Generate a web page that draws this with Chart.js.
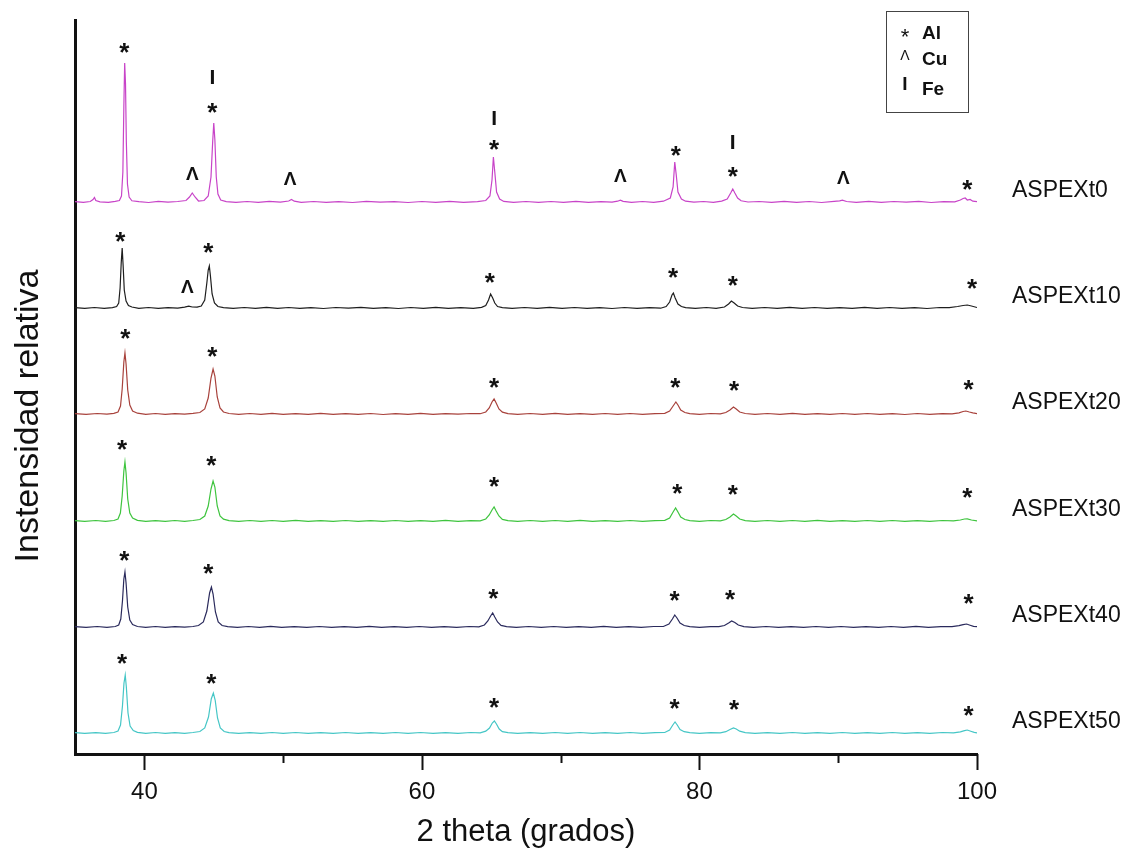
<!DOCTYPE html>
<html>
<head>
<meta charset="utf-8">
<title>DRX ASPEX</title>
<script src="https://cdn.jsdelivr.net/npm/chart.js@4.4.1/dist/chart.umd.min.js"></script>
<style>
  html, body { margin: 0; padding: 0; background: #fff; }
  canvas { display: block; }
</style>
</head>
<body>
<canvas id="xrd" width="1131" height="864"></canvas>
<script>
// Difractogramas apilados, 2 theta en grados, intensidad en unidades relativas
const sampleNames = ['ASPEXt0', 'ASPEXt10', 'ASPEXt20', 'ASPEXt30', 'ASPEXt40', 'ASPEXt50'];
const sampleOffsets = [552, 446, 340, 233, 127, 21];
const sampleColors = ['#c844c8', '#1e1e1e', '#a8423c', '#3ec43e', '#2a2a5c', '#45c6c6'];

const xTickValues = [40, 50, 60, 70, 80, 90, 100];
const xTickLabels = ['40', '', '60', '', '80', '', '100'];

const legendSymbols = ['*', 'Λ', 'I'];
const legendNames = ['Al', 'Cu', 'Fe'];

const t0 = [
  [35.0,0.4],[35.6,-0.3],[36.1,0.5],[36.3,2.5],[36.4,4.5],[36.5,1.5],[36.8,0.2],[37.4,-0.4],[37.9,0.6],
  [38.2,1.5],[38.35,6],[38.45,30],[38.52,95],[38.58,139],[38.64,118],[38.7,60],[38.78,18],[38.9,5],[39.1,1.2],
  [39.6,0.3],[40.3,-0.5],[41.0,0.6],[41.7,-0.2],[42.4,0.5],[43.0,1.5],[43.25,5],[43.45,9],[43.65,5],[43.9,1],
  [44.3,1.5],[44.6,6],[44.8,25],[44.92,60],[45.0,79],[45.08,62],[45.18,25],[45.3,8],[45.5,2],[45.9,0.4],
  [46.6,-0.4],[47.4,0.5],[48.2,-0.3],[49.0,0.6],[49.8,-0.2],[50.4,1],[50.6,2.5],[50.8,0.8],[51.3,-0.3],
  [52.2,0.5],[53.1,-0.4],[54.0,0.3],[55.0,-0.5],[56.0,0.6],[57.0,-0.2],[58.0,0.4],[59.0,-0.5],[60.0,0.5],
  [61.0,-0.3],[62.0,0.6],[63.0,-0.4],[64.0,0.4],[64.6,1.5],[64.9,6],[65.05,22],[65.15,45],[65.25,30],[65.38,10],[65.6,3],[65.9,0.6],
  [66.6,-0.3],[67.5,0.5],[68.4,-0.4],[69.3,0.5],[70.2,-0.3],[71.1,0.6],[72.0,-0.4],[72.9,0.4],[73.7,-0.2],[74.1,0.8],[74.3,1.8],[74.5,0.6],
  [75.1,-0.4],[75.9,0.5],[76.7,-0.3],[77.4,0.8],[77.9,4],[78.1,15],[78.22,40],[78.32,28],[78.45,10],[78.7,3],[79.0,0.8],
  [79.6,-0.2],[80.3,0.5],[81.0,-0.3],[81.6,0.9],[82.0,3],[82.25,9],[82.4,13],[82.55,9],[82.75,4],[83.0,1.2],[83.5,0],
  [84.3,0.5],[85.2,-0.4],[86.1,0.6],[87.0,-0.3],[87.9,0.5],[88.8,-0.5],[89.7,0.6],[90.1,1.2],[90.3,1.8],[90.6,0.5],
  [91.3,-0.3],[92.2,0.6],[93.1,-0.4],[94.0,0.5],[94.9,-0.2],[95.8,0.6],[96.7,-0.5],[97.6,0.4],[98.4,0.2],[98.8,2],[99.0,3.5],[99.15,4],[99.3,2],[99.5,2.5],[99.7,0.8],[100,0.3]
];

const t10 = [
  [35.0,0.3],[35.7,-0.4],[36.4,0.5],[37.1,-0.3],[37.7,0.4],[38.0,1.5],[38.15,5],[38.25,20],[38.33,45],[38.4,60],[38.47,42],[38.55,18],[38.68,7],[38.85,2.5],[39.1,1],
  [39.6,-0.3],[40.3,0.5],[41.0,-0.4],[41.7,0.4],[42.4,-0.2],[42.9,0.8],[43.2,1.8],[43.45,1],[43.8,0.8],[44.1,2],[44.35,8],[44.5,25],[44.6,38],[44.68,42],[44.76,32],[44.88,14],[45.05,5],[45.3,1.5],[45.7,0.3],
  [46.4,-0.4],[47.2,0.5],[48.0,-0.3],[48.8,0.6],[49.6,-0.4],[50.4,0.5],[51.2,-0.3],[52.0,0.4],[52.9,-0.5],[53.8,0.5],[54.7,-0.2],[55.6,0.6],[56.5,-0.4],[57.4,0.3],[58.3,-0.5],[59.2,0.5],[60.1,-0.3],[61.0,0.6],[61.9,-0.4],[62.8,0.4],[63.7,-0.3],[64.3,0.6],
  [64.6,2.5],[64.8,8],[64.95,14],[65.1,10],[65.25,5],[65.45,1.5],[65.8,0.3],
  [66.5,-0.4],[67.4,0.5],[68.3,-0.3],[69.2,0.6],[70.1,-0.4],[71.0,0.5],[71.9,-0.3],[72.8,0.4],[73.7,-0.5],[74.6,0.5],[75.5,-0.3],[76.4,0.4],[77.2,-0.2],[77.6,1.5],[77.85,6],[78.02,13],[78.12,15],[78.25,10],[78.45,4],[78.7,1.5],[79.0,0.3],
  [79.7,-0.4],[80.5,0.5],[81.2,-0.3],[81.8,1],[82.1,4],[82.3,7],[82.5,5],[82.75,2],[83.1,0.5],
  [83.8,-0.3],[84.7,0.5],[85.6,-0.4],[86.5,0.6],[87.4,-0.3],[88.3,0.5],[89.2,-0.4],[90.1,0.4],[91.0,-0.3],[91.9,0.6],[92.8,-0.4],[93.7,0.5],[94.6,-0.3],[95.5,0.4],[96.4,-0.5],[97.3,0.5],[98.0,0.3],[98.6,1.5],[99.0,2.5],[99.3,3],[99.6,2],[100,0.5]
];

const t20 = [
  [35.0,0.4],[35.8,-0.3],[36.6,0.5],[37.3,-0.2],[37.8,0.6],[38.1,2],[38.28,8],[38.4,25],[38.52,52],[38.6,61],[38.68,50],[38.8,24],[38.95,9],[39.15,3],[39.5,0.8],
  [40.1,-0.3],[40.8,0.5],[41.5,-0.4],[42.2,0.4],[42.9,-0.2],[43.5,0.6],[44.0,1.5],[44.35,5],[44.6,16],[44.8,36],[44.95,45],[45.08,38],[45.25,17],[45.45,6],[45.7,2],[46.1,0.5],
  [46.8,-0.4],[47.6,0.5],[48.4,-0.3],[49.2,0.6],[50.0,-0.4],[50.9,0.4],[51.8,-0.3],[52.7,0.6],[53.6,-0.4],[54.5,0.4],[55.4,-0.3],[56.3,0.5],[57.2,-0.5],[58.1,0.4],[59.0,-0.3],[59.9,0.6],[60.8,-0.4],[61.7,0.4],[62.6,-0.2],[63.5,0.5],[64.2,0.3],
  [64.6,2],[64.85,6],[65.05,12],[65.2,15],[65.35,11],[65.55,5],[65.8,1.8],[66.2,0.3],
  [66.9,-0.4],[67.8,0.5],[68.7,-0.3],[69.6,0.6],[70.5,-0.4],[71.4,0.4],[72.3,-0.3],[73.2,0.5],[74.1,-0.4],[75.0,0.5],[75.9,-0.3],[76.8,0.4],[77.5,0.6],[77.85,3],[78.1,8],[78.3,12],[78.45,9],[78.65,4],[78.95,1.5],[79.3,0.3],
  [80.0,-0.3],[80.8,0.5],[81.5,0.2],[81.9,1.5],[82.2,4],[82.45,7],[82.65,5],[82.9,2],[83.3,0.5],
  [84.0,-0.4],[84.9,0.5],[85.8,-0.3],[86.7,0.6],[87.6,-0.4],[88.5,0.4],[89.4,-0.3],[90.3,0.5],[91.2,-0.4],[92.1,0.5],[93.0,-0.3],[93.9,0.4],[94.8,-0.5],[95.7,0.5],[96.6,-0.3],[97.5,0.4],[98.2,0.2],[98.7,1.2],[99.0,2.5],[99.2,3],[99.45,2],[99.7,1.2],[100,0.4]
];

const t30 = [
  [35.0,0.3],[35.7,-0.4],[36.5,0.5],[37.2,-0.3],[37.8,0.5],[38.1,2],[38.27,8],[38.4,25],[38.52,50],[38.6,59],[38.68,48],[38.8,22],[38.95,8],[39.15,3],[39.5,0.6],
  [40.1,-0.4],[40.8,0.4],[41.5,-0.3],[42.2,0.5],[42.9,-0.3],[43.5,0.5],[44.0,1.5],[44.35,5],[44.6,15],[44.8,32],[44.95,40],[45.08,34],[45.25,15],[45.45,5],[45.7,1.8],[46.1,0.4],
  [46.8,-0.3],[47.6,0.5],[48.4,-0.4],[49.2,0.5],[50.0,-0.3],[50.9,0.6],[51.8,-0.4],[52.7,0.4],[53.6,-0.3],[54.5,0.5],[55.4,-0.4],[56.3,0.4],[57.2,-0.3],[58.1,0.5],[59.0,-0.4],[59.9,0.4],[60.8,-0.3],[61.7,0.6],[62.6,-0.4],[63.5,0.4],[64.2,0.2],
  [64.6,2],[64.85,6],[65.05,11],[65.2,14],[65.35,10],[65.55,5],[65.8,1.6],[66.2,0.3],
  [66.9,-0.3],[67.8,0.5],[68.7,-0.4],[69.6,0.5],[70.5,-0.3],[71.4,0.6],[72.3,-0.4],[73.2,0.4],[74.1,-0.3],[75.0,0.5],[75.9,-0.4],[76.8,0.4],[77.5,0.6],[77.85,3],[78.1,9],[78.28,13],[78.45,9],[78.65,4],[78.95,1.5],[79.3,0.3],
  [80.0,-0.4],[80.8,0.5],[81.5,0.2],[81.9,1.5],[82.2,4],[82.45,7],[82.65,5],[82.9,2],[83.3,0.4],
  [84.0,-0.3],[84.9,0.5],[85.8,-0.4],[86.7,0.5],[87.6,-0.3],[88.5,0.6],[89.4,-0.4],[90.3,0.4],[91.2,-0.3],[92.1,0.5],[93.0,-0.4],[93.9,0.5],[94.8,-0.3],[95.7,0.4],[96.6,-0.4],[97.5,0.5],[98.3,0.2],[98.8,1],[99.1,2],[99.3,2.2],[99.6,1],[100,0.2]
];

const t40 = [
  [35.0,0.4],[35.8,-0.3],[36.6,0.5],[37.3,-0.4],[37.9,0.5],[38.15,2],[38.3,8],[38.42,26],[38.52,48],[38.6,55],[38.68,44],[38.8,20],[38.95,7],[39.15,2.5],[39.5,0.5],
  [40.1,-0.3],[40.8,0.5],[41.5,-0.4],[42.2,0.4],[42.9,-0.2],[43.5,0.5],[43.9,1.5],[44.25,5],[44.5,16],[44.7,34],[44.83,40],[44.95,33],[45.12,15],[45.32,5],[45.6,1.5],[46.0,0.3],
  [46.7,-0.4],[47.5,0.5],[48.3,-0.3],[49.1,0.6],[49.9,-0.4],[50.8,0.4],[51.7,-0.3],[52.6,0.5],[53.5,-0.4],[54.4,0.4],[55.3,-0.3],[56.2,0.6],[57.1,-0.4],[58.0,0.4],[58.9,-0.3],[59.8,0.5],[60.7,-0.4],[61.6,0.4],[62.5,-0.3],[63.4,0.5],[64.1,0.2],
  [64.5,2],[64.75,6],[64.95,11],[65.1,14],[65.25,10],[65.45,5],[65.7,1.6],[66.1,0.3],
  [66.8,-0.4],[67.7,0.5],[68.6,-0.3],[69.5,0.5],[70.4,-0.4],[71.3,0.4],[72.2,-0.3],[73.1,0.6],[74.0,-0.4],[74.9,0.4],[75.8,-0.3],[76.7,0.5],[77.4,0.5],[77.8,3],[78.05,8],[78.22,12],[78.38,9],[78.6,4],[78.9,1.5],[79.3,0.3],
  [80.0,-0.3],[80.8,0.4],[81.4,0.3],[81.8,1.5],[82.1,4],[82.32,6],[82.55,4.5],[82.8,2],[83.2,0.4],
  [83.9,-0.3],[84.8,0.5],[85.7,-0.4],[86.6,0.4],[87.5,-0.3],[88.4,0.5],[89.3,-0.4],[90.2,0.5],[91.1,-0.3],[92.0,0.4],[92.9,-0.4],[93.8,0.5],[94.7,-0.3],[95.6,0.6],[96.5,-0.4],[97.4,0.4],[98.2,0.3],[98.7,1.3],[99.0,2.3],[99.25,3],[99.5,1.8],[99.75,0.6],[100,0.3]
];

const t50 = [
  [35.0,0.3],[35.7,-0.4],[36.5,0.4],[37.2,-0.3],[37.8,0.5],[38.1,2],[38.28,8],[38.42,27],[38.53,50],[38.62,58],[38.7,46],[38.82,20],[38.97,7],[39.2,2.5],[39.5,0.6],
  [40.1,-0.3],[40.8,0.5],[41.5,-0.4],[42.2,0.4],[42.9,-0.3],[43.5,0.5],[44.0,1.5],[44.35,5],[44.62,16],[44.82,34],[44.97,40],[45.1,33],[45.27,15],[45.47,5],[45.75,1.5],[46.1,0.3],
  [46.8,-0.4],[47.6,0.4],[48.4,-0.3],[49.2,0.5],[50.0,-0.4],[50.9,0.5],[51.8,-0.3],[52.7,0.4],[53.6,-0.4],[54.5,0.5],[55.4,-0.3],[56.3,0.4],[57.2,-0.4],[58.1,0.5],[59.0,-0.3],[59.9,0.5],[60.8,-0.4],[61.7,0.4],[62.6,-0.3],[63.5,0.5],[64.2,0.2],
  [64.6,1.8],[64.87,5],[65.07,10],[65.22,12],[65.37,9],[65.57,4],[65.8,1.4],[66.2,0.3],
  [66.9,-0.3],[67.8,0.4],[68.7,-0.4],[69.6,0.5],[70.5,-0.3],[71.4,0.5],[72.3,-0.4],[73.2,0.4],[74.1,-0.3],[75.0,0.5],[75.9,-0.4],[76.8,0.4],[77.5,0.5],[77.85,3],[78.08,8],[78.24,11],[78.4,8],[78.6,3.5],[78.9,1.3],[79.3,0.3],
  [80.0,-0.4],[80.8,0.4],[81.5,0.2],[81.9,1.3],[82.2,3.5],[82.45,5],[82.65,4],[82.9,1.8],[83.3,0.4],
  [84.0,-0.3],[84.9,0.4],[85.8,-0.4],[86.7,0.5],[87.6,-0.3],[88.5,0.4],[89.4,-0.4],[90.3,0.5],[91.2,-0.3],[92.1,0.4],[93.0,-0.4],[93.9,0.5],[94.8,-0.3],[95.7,0.4],[96.6,-0.4],[97.5,0.5],[98.3,0.2],[98.8,1.2],[99.1,2.4],[99.3,3],[99.55,1.8],[99.8,0.6],[100,0.2]
];

const traces = [t0, t10, t20, t30, t40, t50];

// fase asignada a cada pico: [muestra, 2theta, simbolo, altura sobre la linea base]
const peakMarks = [
  [0, 38.56, '*', 154], [0, 43.46, 'Λ', 29], [0, 44.9, 'I', 125], [0, 44.9, '*', 94],
  [0, 50.5, 'Λ', 24], [0, 65.2, 'I', 84], [0, 65.2, '*', 57], [0, 74.3, 'Λ', 27],
  [0, 78.3, '*', 51], [0, 82.4, 'I', 60], [0, 82.4, '*', 30], [0, 90.36, 'Λ', 25], [0, 99.3, '*', 17],
  [1, 38.27, '*', 71], [1, 43.1, 'Λ', 22], [1, 44.6, '*', 60], [1, 64.9, '*', 30],
  [1, 78.1, '*', 35], [1, 82.4, '*', 27], [1, 99.65, '*', 24],
  [2, 38.63, '*', 80], [2, 44.9, '*', 62], [2, 65.2, '*', 31], [2, 78.26, '*', 31], [2, 82.5, '*', 28], [2, 99.4, '*', 29],
  [3, 38.4, '*', 76], [3, 44.83, '*', 60], [3, 65.2, '*', 39], [3, 78.4, '*', 32], [3, 82.4, '*', 31], [3, 99.3, '*', 28],
  [4, 38.56, '*', 71], [4, 44.6, '*', 58], [4, 65.14, '*', 33], [4, 78.2, '*', 31], [4, 82.2, '*', 32], [4, 99.4, '*', 28],
  [5, 38.4, '*', 74], [5, 44.83, '*', 54], [5, 65.2, '*', 30], [5, 78.2, '*', 29], [5, 82.5, '*', 28], [5, 99.4, '*', 22]
];

const FONT = "'Liberation Sans', Arial, sans-serif";
const markFonts = { '*': 'bold 26px ' + FONT, 'Λ': 'bold 19px ' + FONT, 'I': 'bold 21px ' + FONT };

// dibuja un texto centrado en (x, y) segun su caja real
function centeredText(ctx, text, x, y) {
  const m = ctx.measureText(text);
  ctx.textAlign = 'center';
  ctx.textBaseline = 'alphabetic';
  ctx.fillText(text, x, y + (m.actualBoundingBoxAscent - m.actualBoundingBoxDescent) / 2);
}

const decorations = {
  id: 'decorations',
  afterDraw(chart) {
    const { ctx, chartArea, scales: { x, y } } = chart;
    ctx.save();
    ctx.fillStyle = '#111';
    ctx.strokeStyle = '#111';

    // marcas del eje x: principales largas, secundarias cortas
    ctx.lineWidth = 2;
    xTickValues.forEach((v, i) => {
      const px = Math.round(x.getPixelForValue(v)) + 0.5;
      const len = xTickLabels[i] ? 16 : 9;
      ctx.beginPath();
      ctx.moveTo(px, chartArea.bottom);
      ctx.lineTo(px, chartArea.bottom + len);
      ctx.stroke();
    });

    // simbolos de fase sobre los picos
    peakMarks.forEach(([s, tt, sym, lift]) => {
      ctx.font = markFonts[sym];
      centeredText(ctx, sym, x.getPixelForValue(tt), y.getPixelForValue(sampleOffsets[s] + lift));
    });

    // nombres de las muestras a la derecha
    ctx.font = '23px ' + FONT;
    ctx.textAlign = 'left';
    ctx.textBaseline = 'middle';
    sampleNames.forEach((name, i) => {
      ctx.fillText(name, chartArea.right + 35, y.getPixelForValue(sampleOffsets[i] + 11));
    });

    // titulos de los ejes
    ctx.font = '31px ' + FONT;
    centeredText(ctx, '2 theta (grados)', (chartArea.left + chartArea.right) / 2, 842);
    ctx.save();
    ctx.translate(26, 416);
    ctx.rotate(-Math.PI / 2);
    ctx.font = '34px ' + FONT;
    centeredText(ctx, 'Instensidad relativa', 0, 0);
    ctx.restore();

    // leyenda de fases
    ctx.lineWidth = 1;
    ctx.strokeStyle = '#444';
    ctx.strokeRect(886.5, 11.5, 82, 101);
    const rows = [33, 59, 89];
    const symFonts = ['22px ' + FONT, '14px ' + FONT, 'bold 19px ' + FONT];
    legendSymbols.forEach((sym, i) => {
      ctx.font = symFonts[i];
      centeredText(ctx, sym, 905, rows[i]);
      ctx.font = 'bold 19px ' + FONT;
      ctx.textAlign = 'left';
      ctx.textBaseline = 'middle';
      ctx.fillText(legendNames[i], 922, rows[i] + 1);
    });
    ctx.restore();
  }
};

new Chart(document.getElementById('xrd'), {
  type: 'line',
  data: {
    datasets: traces.map((tr, i) => ({
      label: sampleNames[i],
      data: tr.map(([tt, v]) => ({ x: tt, y: v + sampleOffsets[i] })),
      borderColor: sampleColors[i],
      borderWidth: 1.2,
      pointRadius: 0,
      tension: 0,
      fill: false
    }))
  },
  options: {
    responsive: false,
    animation: false,
    devicePixelRatio: 1,
    layout: { padding: { top: 20, right: 154, left: 0, bottom: 0 } },
    plugins: { legend: { display: false }, tooltip: { enabled: false } },
    scales: {
      x: {
        type: 'linear',
        min: 35,
        max: 100,
        afterBuildTicks: s => { s.ticks = xTickValues.map(v => ({ value: v })); },
        afterFit: s => { s.height = 110; },
        grid: { display: false, drawTicks: true, tickLength: 14 },
        border: { display: true, width: 3, color: '#111' },
        ticks: {
          autoSkip: false,
          maxRotation: 0,
          padding: 10,
          color: '#111',
          font: { family: FONT, size: 24 },
          callback: v => xTickLabels[xTickValues.indexOf(v)]
        }
      },
      y: {
        min: 0,
        max: 734,
        afterFit: s => { s.width = 75; },
        grid: { display: false, drawTicks: false },
        border: { display: true, width: 3, color: '#111' },
        ticks: { display: false }
      }
    }
  },
  plugins: [decorations]
});
</script>
</body>
</html>
